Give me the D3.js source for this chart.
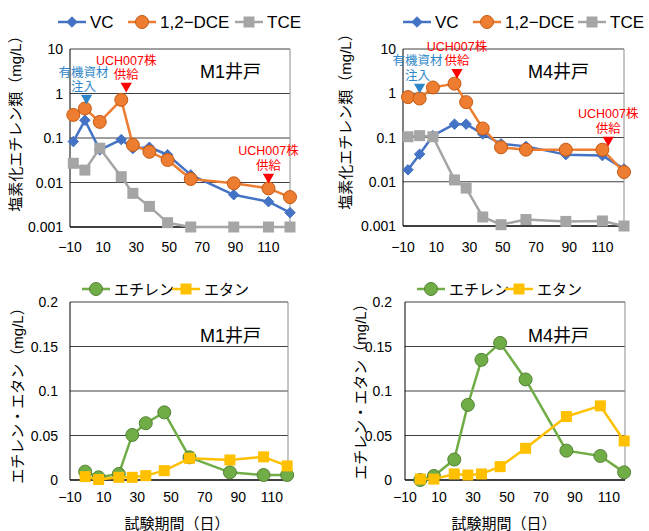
<!DOCTYPE html>
<html>
<head>
<meta charset="utf-8">
<script src="https://cdn.jsdelivr.net/npm/d3@7"></script>
<style>
  body { margin: 0; background: #fff; }
  text { font-family: "Liberation Sans", "Noto Sans CJK JP", sans-serif; fill: #000; }
</style>
</head>
<body>
<script>
// sampling days
var daysM1 = [-8, -1, 8, 21, 28, 38, 49, 63, 89, 110, 123];
var daysM4 = [-7, 0, 8, 21, 28, 38, 49, 64, 88, 110, 123];
var daysBottom = [-1, 7, 19, 27, 35, 46, 61, 85, 105, 119];

// chlorinated ethenes, mg/L
var vcM1  = [0.083, 0.25, 0.054, 0.092, 0.058, 0.062, 0.042, 0.0148, 0.0053, 0.0037, 0.0021];
var dceM1 = [0.33, 0.46, 0.23, 0.72, 0.07, 0.049, 0.032, 0.012, 0.0096, 0.0074, 0.0047];
var tceM1 = [0.027, 0.019, 0.059, 0.0135, 0.0057, 0.0029, 0.00125, 0.001, 0.001, 0.001, 0.001];

var vcM4  = [0.0186, 0.042, 0.11, 0.2, 0.2, 0.12, 0.072, 0.063, 0.041, 0.039, 0.0195];
var dceM4 = [0.82, 0.76, 1.35, 1.65, 0.63, 0.16, 0.06, 0.053, 0.053, 0.053, 0.0166];
var tceM4 = [0.104, 0.11, 0.104, 0.011, 0.0072, 0.0016, 0.00107, 0.0014, 0.00127, 0.0013, 0.001];

// ethene / ethane, mg/L
var ethyleneM1 = [0.0094, 0.003, 0.0068, 0.0506, 0.0638, 0.076, 0.0255, 0.0086, 0.0056, 0.0056];
var ethaneM1   = [0.0038, 0.0005, 0.003, 0.003, 0.0049, 0.0105, 0.0244, 0.0225, 0.026, 0.0158];
var ethyleneM4 = [0.0, 0.0045, 0.023, 0.0844, 0.135, 0.154, 0.113, 0.033, 0.027, 0.0086];
var ethaneM4   = [0.001, 0.001, 0.0068, 0.0056, 0.0068, 0.015, 0.0356, 0.0713, 0.0833, 0.0439];

// axis ticks and labels
var xTicks = [-10, 10, 30, 50, 70, 90, 110];
var logTicks = [10, 1, 0.1, 0.01, 0.001];
var linTicks = [0, 0.05, 0.1, 0.15, 0.2];
var topNames = ["VC", "1,2\u2212DCE", "TCE"];
var bottomNames = ["エチレン", "エタン"];

var blue = "#4472C4", orange = "#ED7D31", grey = "#A5A5A5", green = "#70AD47", gold = "#FFC000";

var svg = d3.select("body").append("svg").attr("width", 649).attr("height", 531);

// markers
function marker(g, shape, color, stroke) {
    if (shape == "diamond") {
        return g.append("path").attr("d", d3.symbol().type(d3.symbolDiamond2).size(70)())
            .attr("fill", color).attr("stroke", color);
    }
    if (shape == "circle") {
        return g.append("circle").attr("r", 6.5).attr("fill", color).attr("stroke", stroke).attr("stroke-width", 1);
    }
    return g.append("rect").attr("x", -5.5).attr("y", -5.5).attr("width", 11).attr("height", 11).attr("fill", color);
}

// one panel (frame, grid, ticks, series, legend)
function panel(p) {
    var x = d3.scaleLinear().domain(p.xDomain).range([p.left, p.right]);
    var y = p.log ? d3.scaleLog().domain([0.001, 10]).range([p.bottom, p.top])
                  : d3.scaleLinear().domain([0, 0.2]).range([p.bottom, p.top]);
    var g = svg.append("g");

    // gridlines
    g.selectAll(".grid").data(p.yTicks.slice(1, -1)).enter().append("line")
        .attr("x1", p.left).attr("x2", p.right)
        .attr("y1", function(d) { return y(d); }).attr("y2", function(d) { return y(d); })
        .attr("stroke", "#404040").attr("stroke-width", 1);

    // frame
    g.append("line").attr("x1", p.left).attr("x2", p.right).attr("y1", p.top).attr("y2", p.top)
        .attr("stroke", "#404040");
    g.append("line").attr("x1", p.right).attr("x2", p.right).attr("y1", p.top).attr("y2", p.bottom)
        .attr("stroke", "#8c8c8c");
    g.append("line").attr("x1", p.left).attr("x2", p.left).attr("y1", p.top).attr("y2", p.bottom)
        .attr("stroke", "#000");
    g.append("line").attr("x1", p.left).attr("x2", p.right).attr("y1", p.bottom).attr("y2", p.bottom)
        .attr("stroke", "#000").attr("stroke-width", 1.5);

    // y tick labels
    g.selectAll(".yt").data(p.yTicks).enter().append("text")
        .attr("x", p.left - p.yGap).attr("y", function(d) { return y(d); })
        .attr("text-anchor", "end").attr("dominant-baseline", "central")
        .style("font-size", "14px")
        .text(function(d) { return String(d); });

    // x tick labels
    g.selectAll(".xt").data(xTicks).enter().append("text")
        .attr("x", function(d) { return x(d); }).attr("y", p.bottom + p.xGap)
        .attr("text-anchor", "middle").attr("dominant-baseline", "central")
        .style("font-size", "14px")
        .text(function(d) { return d3.format("d")(d); });

    // y title
    g.append("text")
        .attr("transform", "translate(" + p.yTitleX + "," + p.yTitleY + ") rotate(-90)")
        .attr("text-anchor", "middle").attr("dominant-baseline", "central")
        .style("font-size", "15px")
        .text(p.yTitle);

    // well name
    g.append("text").attr("x", p.wellX).attr("y", p.wellY)
        .attr("dominant-baseline", "central").style("font-size", "18px")
        .text(p.well);

    // series
    var line = d3.line().x(function(d) { return x(d[0]); }).y(function(d) { return y(d[1]); });
    p.series.forEach(function(s) {
        var pts = p.days.map(function(d, i) { return [d, s.values[i]]; });
        var sg = g.append("g");
        sg.append("path").attr("d", line(pts)).attr("fill", "none")
            .attr("stroke", s.color).attr("stroke-width", 2.5).attr("stroke-linejoin", "round");
        pts.forEach(function(d) {
            marker(sg, s.shape, s.color, s.stroke)
                .attr("transform", "translate(" + x(d[0]) + "," + y(d[1]) + ")");
        });
    });

    // legend
    p.series.forEach(function(s, i) {
        var lx = p.legendX + p.legendStep[i];
        var lg = g.append("g");
        lg.append("line").attr("x1", lx).attr("x2", lx + 28).attr("y1", p.legendY).attr("y2", p.legendY)
            .attr("stroke", s.color).attr("stroke-width", 2.5);
        marker(lg, s.shape, s.color, s.stroke).attr("transform", "translate(" + (lx + 14) + "," + p.legendY + ")");
        lg.append("text").attr("x", lx + 32).attr("y", p.legendY)
            .attr("dominant-baseline", "central").style("font-size", p.legendSize)
            .text(s.name);
    });

    // annotations: triangle + two-line label
    (p.anns || []).forEach(function(a) {
        var ax = x(a.day), ay = y(a.val), tx = ax + (a.dx || 0);
        g.append("path").attr("d", d3.symbol().type(d3.symbolTriangle).size(55)())
            .attr("transform", "translate(" + ax + "," + ay + ") rotate(180)")
            .attr("fill", a.color);
        a.lines.forEach(function(l, i) {
            g.append("text").attr("x", tx).attr("y", ay - 25.5 + i * 14.5)
                .attr("text-anchor", "middle").attr("dominant-baseline", "central")
                .style("font-size", "12.5px").style("fill", a.color)
                .text(l);
        });
    });

    // x title
    if (p.xTitle) {
        g.append("text").attr("x", (p.left + p.right) / 2 + p.xTitleShift).attr("y", 523)
            .attr("text-anchor", "middle").attr("dominant-baseline", "central")
            .style("font-size", "15px").text(p.xTitle);
    }
}

var lightBlue = "#2E86C8", red = "#FF0000";

panel({
    left: 70, right: 290, top: 49, bottom: 227, xDomain: [-10, 123], log: true,
    yTicks: logTicks, yGap: 7, xGap: 20, yTitle: "塩素化エチレン類（mg/L）", yTitleX: 15, yTitleY: 120,
    well: "M1井戸", wellX: 200, wellY: 72, days: daysM1,
    series: [
        {name: topNames[0], values: vcM1, color: blue, shape: "diamond"},
        {name: topNames[1], values: dceM1, color: orange, shape: "circle", stroke: "#C55A11"},
        {name: topNames[2], values: tceM1, color: grey, shape: "square"}
    ],
    legendX: 58, legendStep: [0, 70, 177], legendY: 22, legendSize: "17px",
    anns: [
        {day: 0, val: 0.79, color: lightBlue, lines: ["有機資材", "注入"], dx: -3},
        {day: 24, val: 1.47, color: red, lines: ["UCH007株", "供給"]},
        {day: 110, val: 0.0133, color: red, lines: ["UCH007株", "供給"]}
    ]
});

panel({
    left: 403, right: 624, top: 49, bottom: 226, xDomain: [-10, 123], log: true,
    yTicks: logTicks, yGap: 7, xGap: 21, yTitle: "塩素化エチレン類（mg/L）", yTitleX: 345, yTitleY: 118,
    well: "M4井戸", wellX: 528, wellY: 72, days: daysM4,
    series: [
        {name: topNames[0], values: vcM4, color: blue, shape: "diamond"},
        {name: topNames[1], values: dceM4, color: orange, shape: "circle", stroke: "#C55A11"},
        {name: topNames[2], values: tceM4, color: grey, shape: "square"}
    ],
    legendX: 403, legendStep: [0, 70, 175], legendY: 22, legendSize: "17px",
    anns: [
        {day: 0, val: 1.39, color: lightBlue, lines: ["有機資材", "注入"], dx: -2},
        {day: 22.5, val: 3.0, color: red, lines: ["UCH007株", "供給"]},
        {day: 113.5, val: 0.088, color: red, lines: ["UCH007株", "供給"]}
    ]
});

panel({
    left: 70, right: 288, top: 302, bottom: 480, xDomain: [-10, 119.5], log: false,
    yTicks: linTicks, yGap: 12, xGap: 17, yTitle: "エチレン・エタン（mg/L）", yTitleX: 17, yTitleY: 392,
    well: "M1井戸", wellX: 200, wellY: 336, days: daysBottom,
    series: [
        {name: bottomNames[0], values: ethyleneM1, color: green, shape: "circle", stroke: "#548235"},
        {name: bottomNames[1], values: ethaneM1, color: gold, shape: "square"}
    ],
    legendX: 82, legendStep: [0, 90], legendY: 289, legendSize: "15px",
    xTitle: "試験期間（日）", xTitleShift: -2
});

panel({
    left: 405, right: 625, top: 302, bottom: 480, xDomain: [-10, 119.5], log: false,
    yTicks: linTicks, yGap: 13, xGap: 17, yTitle: "エチレン・エタン（mg/L）", yTitleX: 360, yTitleY: 388,
    well: "M4井戸", wellX: 528, wellY: 336, days: daysBottom,
    series: [
        {name: bottomNames[0], values: ethyleneM4, color: green, shape: "circle", stroke: "#548235"},
        {name: bottomNames[1], values: ethaneM4, color: gold, shape: "square"}
    ],
    legendX: 417, legendStep: [0, 88], legendY: 289, legendSize: "15px",
    xTitle: "試験期間（日）", xTitleShift: -11
});
</script>
</body>
</html>
